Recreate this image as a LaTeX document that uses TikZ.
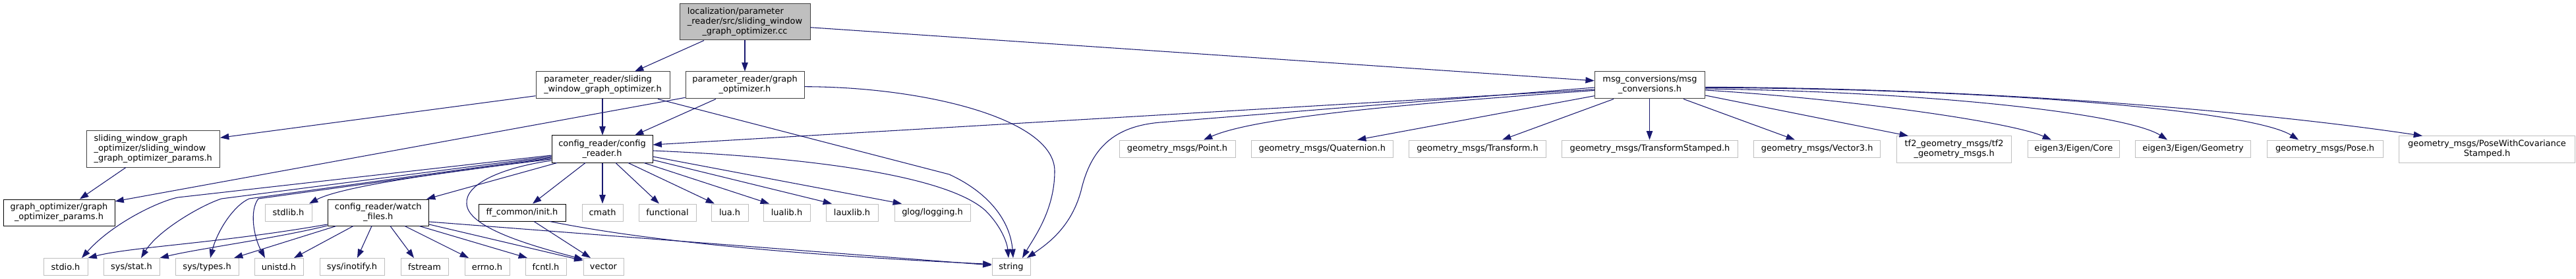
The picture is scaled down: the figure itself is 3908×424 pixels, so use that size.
\documentclass[tikz,border=0pt]{standalone}
\usepackage{fontspec}
\setmainfont{DejaVu Sans}
\usetikzlibrary{arrows.meta}
\definecolor{edgeblue}{HTML}{191970}
\definecolor{nodegray}{HTML}{BFBFBF}
\definecolor{darkborder}{HTML}{404040}
\newcommand{\twol}[2]{\begin{tabular}{@{}l@{}}#1\\\multicolumn{1}{@{}c@{}}{#2}\end{tabular}}
\newcommand{\threel}[3]{\begin{tabular}{@{}l@{}}#1\\#2\\\multicolumn{1}{@{}c@{}}{#3}\end{tabular}}
\begin{document}
\begin{tikzpicture}[x=0.75pt,y=-0.75pt,
  box/.style={rectangle, inner sep=0pt, line width=0.75pt, fill=white,
    font=\fontsize{9.7}{11.25}\selectfont, align=center},
  sz/.style 2 args={minimum width=#1*0.75pt, minimum height=#2*0.75pt},
  rootbox/.style={box, draw=darkborder, fill=nodegray},
  dk/.style={box, draw=darkborder},
  bk/.style={box, draw=black},
  gr/.style={box, draw=nodegray},
  dep/.style={draw=edgeblue, line width=0.8pt, -{Triangle[length=10pt,width=7pt]}}]
\fill[white] (0,0) rectangle (3908,424);
\useasboundingbox (0,0) rectangle (3908,424);

% ---- nodes ----
\node[rootbox, sz={198}{55}] (root) at (1130,33.5) {\threel{localization/parameter}{\_reader/src/sliding\_window}{\_graph\_optimizer.cc}};
\node[dk, sz={203}{41}] (psw) at (914.5,129.5) {\twol{parameter\_reader/sliding}{\_window\_graph\_optimizer.h}};
\node[dk, sz={180}{41}] (pgo) at (1130,129.5) {\twol{parameter\_reader/graph}{\_optimizer.h}};
\node[dk, sz={167.5}{41}] (msg) at (2503,129.5) {\twol{msg\_conversions/msg}{\_conversions.h}};
\node[dk, sz={202.5}{55}] (swp) at (232.25,226.5) {\threel{sliding\_window\_graph}{\_optimizer/sliding\_window}{\_graph\_optimizer\_params.h}};
\node[bk, sz={169}{40}] (gop) at (89.5,323) {\twol{graph\_optimizer/graph}{\_optimizer\_params.h}};
\node[bk, sz={153}{41}] (cfg) at (913.5,226.5) {\twol{config\_reader/config}{\_reader.h}};
\node[gr, sz={71}{26}] (stdlib) at (437.5,323) {stdlib.h};
\node[bk, sz={153.5}{40}] (watch) at (573.75,323) {\twol{config\_reader/watch}{\_files.h}};
\node[bk, sz={132}{26}] (init) at (792,323) {ff\_common/init.h};
\node[gr, sz={62}{26}] (cmath) at (914,323) {cmath};
\node[gr, sz={87}{26}] (functional) at (1012.5,323) {functional};
\node[gr, sz={56}{26}] (lua) at (1107,323) {lua.h};
\node[gr, sz={71}{26}] (lualib) at (1193.5,323) {lualib.h};
\node[gr, sz={79}{26}] (lauxlib) at (1292.5,323) {lauxlib.h};
\node[gr, sz={115}{26}] (glog) at (1414.5,323) {glog/logging.h};

\node[gr, sz={67}{26}] (stdio) at (99.5,405.5) {stdio.h};
\node[gr, sz={85}{26}] (sysstat) at (199.5,405.5) {sys/stat.h};
\node[gr, sz={96}{26}] (systypes) at (314,405.5) {sys/types.h};
\node[gr, sz={74}{26}] (unistd) at (423,405.5) {unistd.h};
\node[gr, sz={98}{26}] (inotify) at (534,405.5) {sys/inotify.h};
\node[gr, sz={72}{26}] (fstream) at (644,405.5) {fstream};
\node[gr, sz={68}{26}] (errno) at (739,405.5) {errno.h};
\node[gr, sz={62}{26}] (fcntl) at (828,405.5) {fcntl.h};
\node[gr, sz={61}{26}] (vector) at (915.5,405.5) {vector};
\node[gr, sz={58}{26}] (string) at (1534,405.5) {string};

\node[gr, sz={176}{26}] (point) at (1786,226) {geometry\_msgs/Point.h};
\node[gr, sz={214.5}{26}] (quat) at (2005.75,226) {geometry\_msgs/Quaternion.h};
\node[gr, sz={208}{26}] (transf) at (2241.5,226) {geometry\_msgs/Transform.h};
\node[gr, sz={266.5}{26}] (tstamp) at (2503,226) {geometry\_msgs/TransformStamped.h};
\node[gr, sz={192}{26}] (vec3) at (2756.7,226) {geometry\_msgs/Vector3.h};
\node[gr, sz={174}{40}] (tf2) at (2964.6,227) {\twol{tf2\_geometry\_msgs/tf2}{\_geometry\_msgs.h}};
\node[gr, sz={139.6}{26}] (core) at (3145.8,226) {eigen3/Eigen/Core};
\node[gr, sz={174.7}{26}] (geom) at (3327,226) {eigen3/Eigen/Geometry};
\node[gr, sz={176}{26}] (pose) at (3527,226) {geometry\_msgs/Pose.h};
\node[gr, sz={267}{40}] (pwc) at (3773,227) {\twol{geometry\_msgs/PoseWithCovariance}{Stamped.h}};

% ---- edges from root ----
\draw[dep] (root.south -| 1068,0) -- (psw.north -| 963,0);
\draw[dep] (root.south -| 1130,0) -- (pgo.north -| 1130,0);
\draw[dep] (root.east |- 0,41.7) -- (msg.west |- 0,122.7);

% ---- psw ----
\draw[dep] (psw.west |- 0,145.7) -- (swp.east |- 0,209.3);
\draw[dep] (psw.south -| 914,0) -- (cfg.north -| 914,0);
\draw[dep] (psw.south -| 998,0) -- (1440,265) .. controls (1505,295) and (1533,340) .. (string.north -| 1537,0);

% ---- pgo ----
\draw[dep] (pgo.west |- 0,148.3) -- (gop.east |- 0,306);
\draw[dep] (pgo.south -| 1086,0) -- (cfg.north -| 963,0);
\draw[dep] (pgo.east |- 0,131.7) .. controls (1400,132) and (1600,180) .. (1600,260) .. controls (1600,320) and (1568,362) .. (string.north -| 1551,0);

% ---- swp ----
\draw[dep] (swp.south -| 191,0) -- (gop.north -| 121,0);

% ---- msg ----
\draw[dep] (msg.west |- 0,136) -- (cfg.east |- 0,220);
\draw[dep] (msg.west |- 0,133) -- (1760,186) .. controls (1690,192) and (1655,225) .. (1640,290) .. controls (1625,345) and (1590,370) .. (string.north -| 1558,0);
\draw[dep] (msg.west |- 0,137.5) .. controls (2100,160) and (1900,180) .. (point.north -| 1826,0);
\draw[dep] (msg.west |- 0,145.7) -- (quat.north -| 2059,0);
\draw[dep] (msg.south -| 2448,0) -- (transf.north -| 2279,0);
\draw[dep] (msg.south -| 2502.5,0) -- (tstamp.north -| 2502.5,0);
\draw[dep] (msg.south -| 2554,0) -- (vec3.north -| 2723,0);
\draw[dep] (msg.east |- 0,145) -- (tf2.north -| 2895,0);
\draw[dep] (msg.east |- 0,137) .. controls (2800,150) and (3050,185) .. (core.north -| 3112,0);
\draw[dep] (msg.east |- 0,135) .. controls (2950,140) and (3230,175) .. (geom.north -| 3288,0);
\draw[dep] (msg.east |- 0,133.3) .. controls (3050,135) and (3420,170) .. (pose.north -| 3487,0);
\draw[dep] (msg.east |- 0,132.3) .. controls (3100,135) and (3500,180) .. (pwc.north -| 3675,0);

% ---- cfg ----
\draw[dep] (cfg.west |- 0,236) -- (270,300) .. controls (240,306) and (170,340) .. (stdio.north -| 124,0);
\draw[dep] (cfg.west |- 0,237.5) -- (336,302) .. controls (305,312) and (240,350) .. (sysstat.north -| 214,0);
\draw[dep] (cfg.west |- 0,239) -- (378,302) .. controls (355,312) and (330,350) .. (systypes.north -| 319,0);
\draw[dep] (cfg.west |- 0,240.5) -- (392,302) .. controls (378,320) and (385,360) .. (unistd.north -| 402,0);
\draw[dep] (cfg.west |- 0,242) .. controls (700,258) and (520,282) .. (stdlib.north -| 469,0);
\draw[dep] (cfg.south -| 845,0) -- (watch.north -| 647,0);
\draw[dep] (cfg.west |- 0,244) .. controls (760,255) and (705,280) .. (708,310) .. controls (710,345) and (800,372) .. (vector.west |- 0,394);
\draw[dep] (cfg.south -| 888,0) -- (init.north -| 808,0);
\draw[dep] (cfg.south -| 914,0) -- (cmath.north -| 914,0);
\draw[dep] (cfg.south -| 934,0) -- (functional.north -| 1000,0);
\draw[dep] (cfg.south -| 953,0) -- (lua.north -| 1084,0);
\draw[dep] (cfg.south -| 977,0) -- (lualib.north -| 1167,0);
\draw[dep] (cfg.east |- 0,243) -- (lauxlib.north -| 1262,0);
\draw[dep] (cfg.east |- 0,238) -- (glog.north -| 1368,0);
\draw[dep] (cfg.east |- 0,229) .. controls (1250,240) and (1440,270) .. (1495,320) .. controls (1520,345) and (1528,370) .. (string.north -| 1530,0);

% ---- watch ----
\draw[dep] (watch.west |- 0,341) .. controls (330,370) and (200,375) .. (stdio.north east);
\draw[dep] (watch.west |- 0,343) .. controls (420,362) and (300,378) .. (sysstat.north east);
\draw[dep] (watch.south -| 510,0) -- (systypes.north -| 355,0);
\draw[dep] (watch.south -| 536,0) -- (unistd.north -| 446,0);
\draw[dep] (watch.south -| 564,0) -- (inotify.north -| 542,0);
\draw[dep] (watch.south -| 592,0) -- (fstream.north -| 628,0);
\draw[dep] (watch.south -| 614,0) -- (errno.north -| 711,0);
\draw[dep] (watch.south -| 636,0) -- (fcntl.north -| 800,0);
\draw[dep] (watch.east |- 0,341) -- (vector.west |- 0,396);
\draw[dep] (watch.east |- 0,337) -- (string.west |- 0,403);

% ---- init ----
\draw[dep] (init.south -| 810,0) -- (vector.north -| 896,0);
\draw[dep] (init.south -| 834,0) .. controls (950,360) and (1150,385) .. (string.west |- 0,401.5);
\end{tikzpicture}
\end{document}
